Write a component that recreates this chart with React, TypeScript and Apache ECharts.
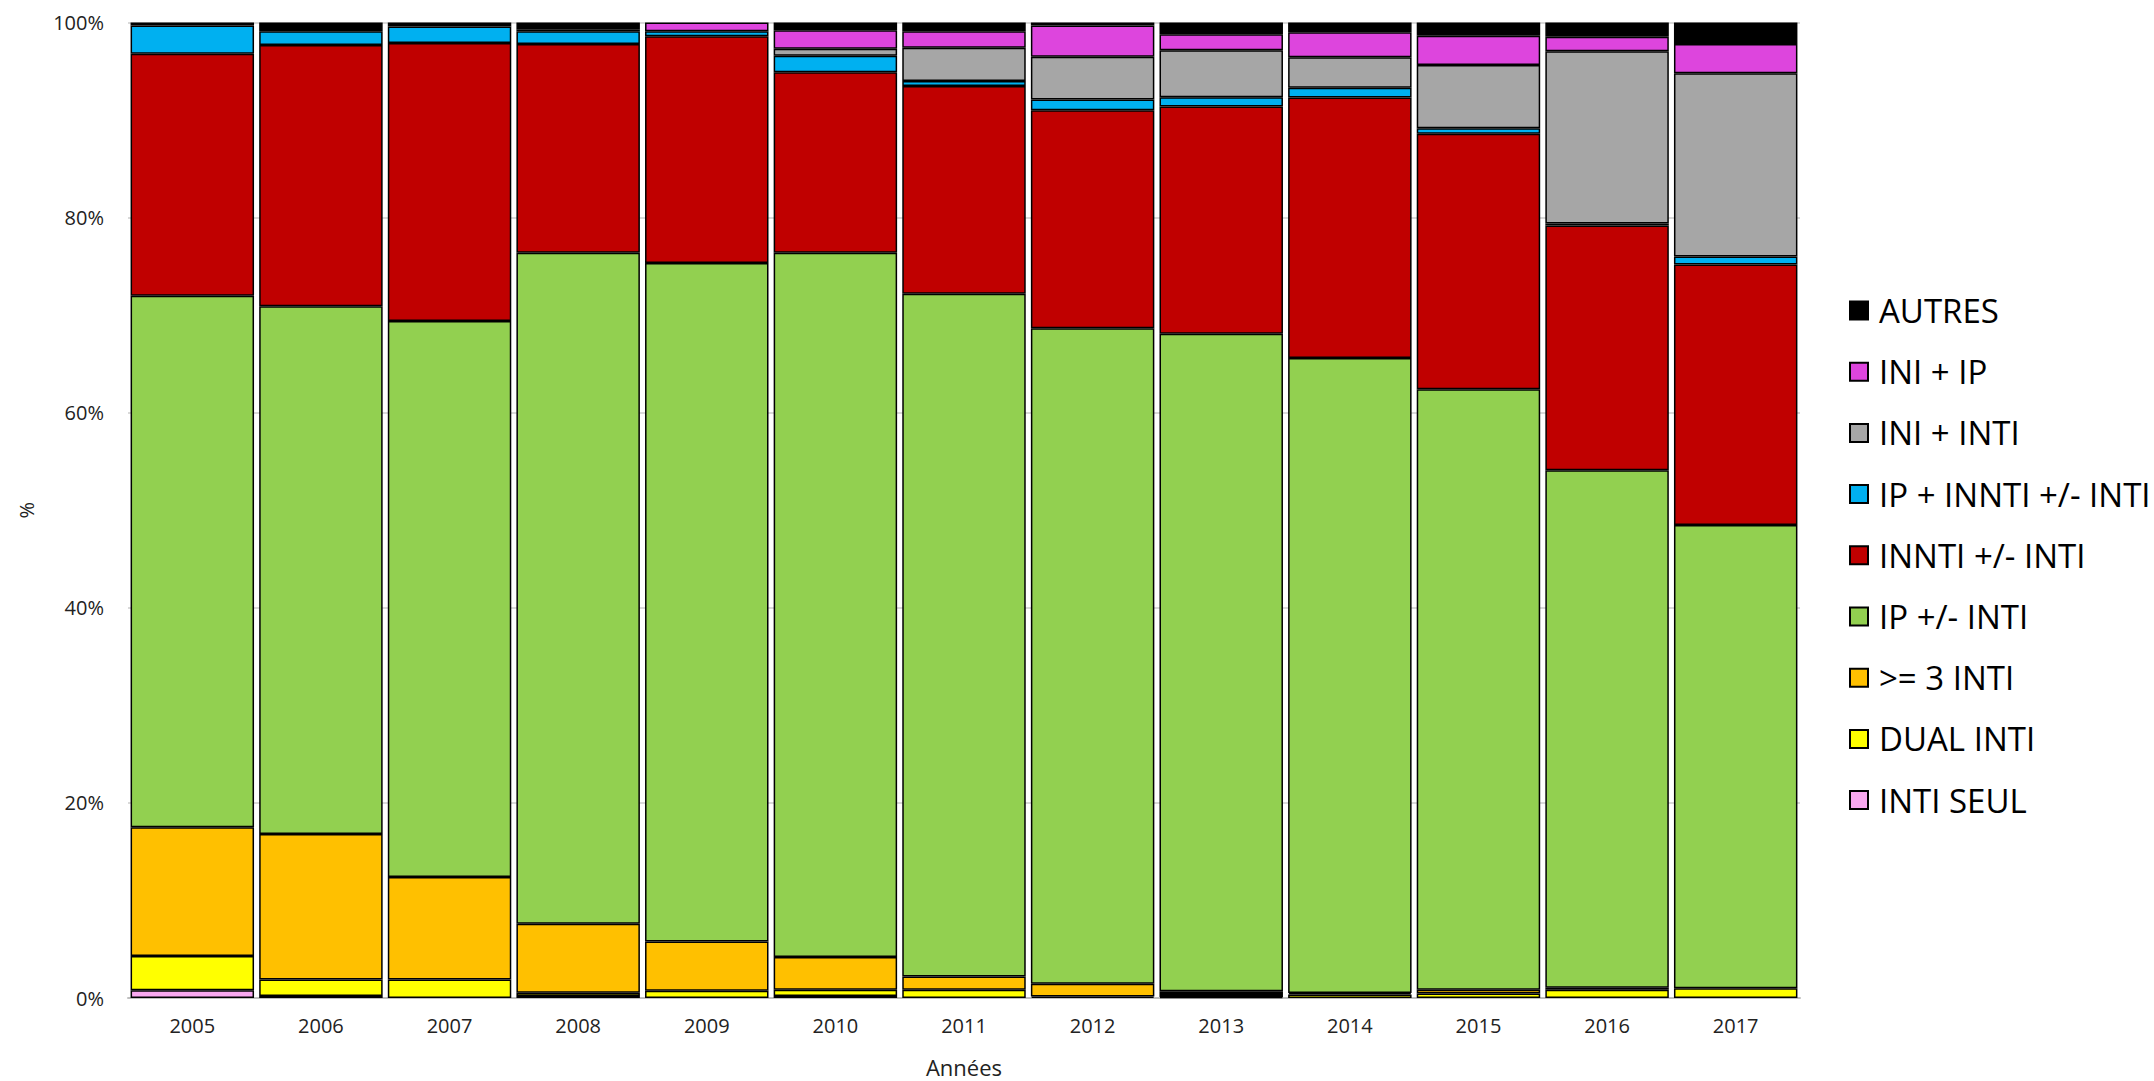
import React, { useEffect, useRef } from "react";
import * as echarts from "echarts";

const years = ["2005", "2006", "2007", "2008", "2009", "2010", "2011", "2012", "2013", "2014", "2015", "2016", "2017"];

const intiSeul = [0.8, 0.2, 0, 0.2, 0, 0.2, 0, 0, 0.1, 0, 0, 0, 0];
const dualInti = [3.5, 1.7, 1.9, 0.35, 0.75, 0.65, 0.85, 0.15, 0.3, 0.35, 0.45, 0.85, 1.0];
const ge3Inti = [13.2, 14.9, 10.5, 7.05, 5.05, 3.35, 1.35, 1.3, 0.3, 0.15, 0.4, 0.2, 0];
const ipInti = [54.5, 54.1, 57.0, 68.8, 69.55, 72.2, 70.0, 67.2, 67.4, 65.1, 61.55, 53.05, 47.5];
const innti = [24.8, 26.8, 28.5, 21.4, 23.25, 18.5, 21.3, 22.35, 23.3, 26.7, 26.2, 25.1, 26.7];
const ipInnti = [2.9, 1.4, 1.7, 1.3, 0.5, 1.7, 0.5, 1.1, 0.95, 1.0, 0.55, 0.2, 0.8];
const iniInti = [0, 0, 0, 0, 0, 0.7, 3.4, 4.4, 4.8, 3.15, 6.5, 17.65, 18.8];
const iniIp = [0, 0, 0, 0.2, 0.9, 1.9, 1.7, 3.2, 1.65, 2.55, 3.0, 1.5, 3.0];
const autres = [0.3, 0.9, 0.4, 0.7, 0, 0.8, 0.9, 0.3, 1.2, 1.0, 1.35, 1.45, 2.2];

const yTicks = [0, 20, 40, 60, 80, 100];

const seriesDefs = [
  { name: "INTI SEUL", data: intiSeul, color: "#F9A8F0" },
  { name: "DUAL INTI", data: dualInti, color: "#FFFF00" },
  { name: ">= 3 INTI", data: ge3Inti, color: "#FFC000" },
  { name: "IP +/- INTI", data: ipInti, color: "#92D050" },
  { name: "INNTI +/- INTI", data: innti, color: "#C00000" },
  { name: "IP + INNTI +/- INTI", data: ipInnti, color: "#00B0F0" },
  { name: "INI + INTI", data: iniInti, color: "#A6A6A6" },
  { name: "INI + IP", data: iniIp, color: "#DD45DD" },
  { name: "AUTRES", data: autres, color: "#000000" },
];

const FONT = "'Open Sans', 'Noto Sans', sans-serif";

export default function App() {
  const ref = useRef<HTMLDivElement>(null);

  useEffect(() => {
    document.body.style.margin = "0";
    if (!ref.current) return;
    const chart = echarts.init(ref.current, null, { renderer: "svg" });
    chart.setOption({
      animation: false,
      backgroundColor: "#ffffff",
      grid: { left: 128, right: 354, top: 22.5, bottom: 83, containLabel: false, outerBoundsMode: "none" },
      legend: {
        orient: "vertical",
        left: 1844,
        top: 289,
        itemWidth: 18,
        itemHeight: 18,
        itemGap: 28.2,
        icon: "rect",
        data: seriesDefs.map((s) => s.name).reverse(),
        textStyle: { fontSize: 33, fontFamily: FONT, color: "#000", padding: [0, 0, 0, 6] },
      },
      xAxis: {
        type: "category",
        data: years,
        name: "Années",
        nameLocation: "middle",
        nameGap: 58,
        nameTextStyle: { fontSize: 22, lineHeight: 22, fontFamily: FONT, color: "#222" },
        axisLine: { show: true, lineStyle: { color: "#BFBFBF", width: 2 } },
        axisTick: { show: false },
        axisLabel: { fontSize: 20, fontFamily: FONT, color: "#222", margin: 17 },
      },
      yAxis: {
        type: "value",
        min: yTicks[0],
        max: yTicks[yTicks.length - 1],
        interval: 20,
        name: "%",
        nameLocation: "middle",
        nameRotate: 90,
        nameGap: 92,
        nameTextStyle: { fontSize: 20, fontFamily: FONT, color: "#222" },
        axisLine: { show: false },
        axisTick: { show: false },
        axisLabel: { formatter: "{value}%", fontSize: 20, fontFamily: FONT, color: "#222", margin: 24 },
        splitLine: { show: true, lineStyle: { color: "#D9D9D9", width: 2 } },
      },
      series: seriesDefs.map((s) => ({
        name: s.name,
        type: "bar",
        stack: "total",
        barCategoryGap: "4%",
        data: s.data.map((v) => (v === 0 ? null : v)),
        itemStyle: { color: s.color, borderColor: "#000", borderWidth: 1.5 },
        emphasis: { disabled: true },
      })),
    });
    return () => chart.dispose();
  }, []);

  return <div ref={ref} style={{ width: 2154, height: 1081 }} />;
}
